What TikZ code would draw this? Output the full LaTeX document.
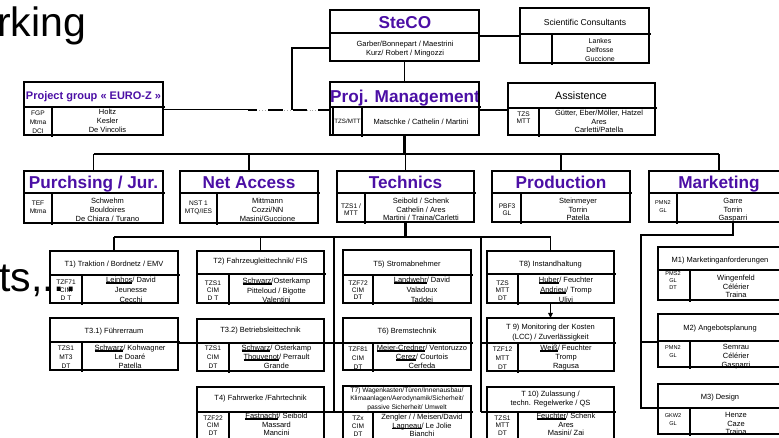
\documentclass[tikz,border=0pt]{standalone}
\usepackage{fontspec}
\setmainfont{Liberation Sans}
\usetikzlibrary{arrows.meta}
\definecolor{purp}{RGB}{75,15,165}
\pgfdeclarelayer{front}
\pgfsetlayers{main,front}
\newcommand\undl[1]{\setbox0\hbox{#1}\rlap{\rule[-1.1pt]{\wd0}{1.7pt}}\box0}
\tikzset{
  frame/.style={draw, line width=1.6pt, inner sep=0pt, outer sep=0pt},
  divl/.style={line width=1.5pt},
  conn/.style={line width=1.3pt},
  thickconn/.style={line width=2.7pt},
  ttlP/.style={font=\bfseries\fontsize{17.2}{18}\selectfont, text=purp, anchor=base, inner sep=0pt},
  ttlE/.style={font=\bfseries\fontsize{11}{12}\selectfont, text=purp, anchor=base, inner sep=0pt},
  sm/.style={font=\fontsize{7.5}{9}\selectfont, anchor=base, inner sep=0pt, yshift=-2.7pt},
  smb/.style={font=\fontsize{7}{9}\selectfont, anchor=base, inner sep=0pt, yshift=-2.5pt},
  xs/.style={font=\fontsize{6.6}{8}\selectfont, anchor=base, inner sep=0pt, yshift=-2.4pt},
  lc/.style={font=\fontsize{6.6}{8}\selectfont, anchor=base, inner sep=0pt, yshift=-2.4pt},
  tiny/.style={font=\fontsize{5.6}{7}\selectfont, anchor=base, inner sep=0pt, yshift=-2pt},
  md/.style={font=\fontsize{8.6}{10}\selectfont, anchor=base, inner sep=0pt, yshift=-3.1pt},
  lg/.style={font=\fontsize{10.7}{12}\selectfont, anchor=base, inner sep=0pt, yshift=-3.9pt},
  big/.style={font=\fontsize{41}{45}\selectfont, anchor=base west, inner sep=0pt},
}
% name x1 y1 x2 y2 ydiv xdiv
\newcommand\obox[7]{%
  \begin{pgfonlayer}{front}
  \node[frame, anchor=north west, minimum width={(#4-#2)*1pt}, minimum height={(#5-#3)*1pt}] (#1) at (#2,#3) {};
  \draw[divl] (#2,#6) -- ({#4+2},#6);
  \draw[divl] (#7,#6) -- (#7,{#5+2});
  \end{pgfonlayer}}
\newcommand\oboxnc[6]{%
  \begin{pgfonlayer}{front}
  \node[frame, anchor=north west, minimum width={(#4-#2)*1pt}, minimum height={(#5-#3)*1pt}] (#1) at (#2,#3) {};
  \draw[divl] (#2,#6) -- (#4,#6);
  \end{pgfonlayer}}
% prefix style x y dy list
\newcommand\txt[6]{%
  \foreach \ln [count=\k from 0] in {#6} {\node[#2] (#1\k) at ({#3},{#4+\k*#5}) {\ln};}}
\begin{document}
\begin{tikzpicture}[x=1pt,y=-1pt]
\useasboundingbox (0,0) rectangle (779,438);

% ---------- boxes ----------
\oboxnc{steco}{330}{10}{479}{61}{33}
\obox{pm}{330}{82}{479}{135}{107}{362}
\begin{pgfonlayer}{front}\draw[divl] (333,107) -- (333,135);\end{pgfonlayer}
\obox{sci}{520}{8}{649}{63}{34}{552}
\obox{assist}{508}{83}{655}{135}{108}{539}
\obox{euro}{24}{82}{163}{135}{107}{52}
\obox{purch}{24}{171}{163}{223}{193}{52}
\obox{net}{180}{171}{318}{223}{193}{217}
\obox{tech}{337}{171}{474}{222}{193}{365}
\obox{prod}{492}{171}{630}{222}{193}{521}
\obox{mkt}{649}{171}{789}{222}{193}{677}
\obox{t1}{50}{251}{178}{303}{275}{82}
\obox{t31}{50}{318}{178}{370}{342}{82}
\obox{t2}{197}{251}{324}{303}{274}{229}
\obox{t32}{197}{319}{324}{371}{343}{229}
\obox{t4}{197}{387}{324}{450}{412}{229}
\obox{t5}{343}{250}{471}{303}{275}{373}
\obox{t6}{343}{318}{471}{370}{343}{373}
\obox{t7}{343}{386}{471}{450}{412}{373}
\obox{t8}{487}{251}{614}{303}{274}{518}
\obox{t9}{487}{318}{614}{371}{343}{518}
\obox{t10}{487}{387}{614}{450}{412}{518}
\obox{m1}{658}{247}{786}{300}{270}{690}
\obox{m2}{658}{314}{786}{367}{341}{690}
\obox{m3}{658}{384}{786}{434}{408}{690}

% ---------- texts ----------
\node[ttlP] (tSte) at (405,29) {SteCO};
\txt{bSte}{sm}{405}{44}{9}{{Garber/Bonnepart  / Maestrini},{Kurz/ Robert / Mingozzi}}

\node[ttlP] (tPM) at (405,103) {Proj. Management};
\node[tiny, font=\fontsize{6.2}{7}\selectfont] (lPM) at (347.5,122) {TZS/MTT};
\txt{bPM}{sm}{421}{122}{9}{{Matschke / Cathelin / Martini}}

\node[md] (tSci) at (585,22) {Scientific Consultants};
\txt{bSci}{smb}{600}{41}{9}{{Lankes},{Delfosse},{Guccione}}

\node[lg] (tAs) at (581,96) {Assistence};
\txt{bAs}{sm}{599}{113}{8.5}{{Gütter, Eber/Möller, Hatzel},{Ares},{Carletti/Patella}}
\txt{lAs}{lc}{523.5}{114}{7}{{TZS},{MTT}}

\node[ttlE] (tEu) at (93.5,100) {Project group « EURO-Z »};
\txt{bEu}{sm}{107.5}{112}{9}{{Holtz},{Kesler},{De  Vincolis}}
\txt{lEu}{lc}{38}{113}{9}{{FGP},{Mtma},{DCI}}

\node[ttlP] (tPu) at (93.5,189) {Purchsing / Jur.};
\txt{bPu}{sm}{107.5}{201}{9}{{Schwehm},{Bouldoires},{De Chiara / Turano}}
\txt{lPu}{lc}{38}{203}{8}{{TEF},{Mtma}}

\node[ttlP] (tNe) at (249,189) {Net Access};
\txt{bNe}{sm}{267.5}{201}{9}{{Mittmann},{Cozzi/NN},{Masini/Guccione}}
\txt{lNe}{lc}{198.5}{203}{8}{{NST 1},{MTQ/IES}}

\node[ttlP] (tTe) at (405.5,189) {Technics};
\txt{bTe}{sm}{421}{201}{8.5}{{Seibold / Schenk},{Cathelin  /  Ares},{Martini / Traina/Carletti}}
\txt{lTe}{lc}{351}{206}{7.5}{{TZS1 /},{MTT}}

\node[ttlP] (tPr) at (561,189) {Production};
\txt{bPr}{sm}{578}{201}{8.5}{{Steinmeyer},{Torrin},{Patella}}
\txt{lPr}{lc}{507}{206}{7.5}{{PBF3},{GL}}

\node[ttlP] (tMk) at (719,189) {Marketing};
\txt{bMk}{sm}{733}{201}{8.5}{{Garre},{Torrin},{Gasparri}}
\txt{lMk}{tiny}{663}{203}{8}{{PMN2},{GL}}

\txt{hT1}{sm}{114}{264}{0}{{T1) Traktion / Bordnetz / EMV}}
\txt{bT1}{sm}{131}{280}{10}{{\undl{Leinhos}/  David},{Jeunesse},{Cecchi}}
\txt{lT1}{lc}{66}{282}{8}{{TZF71},{CIM},{D T}}

\txt{hT31}{sm}{114}{331}{0}{{T3.1) Führerraum}}
\txt{bT31}{sm}{130}{348}{9}{{\undl{Schwarz}/ Kohwagner},{Le Doaré},{Patella}}
\txt{lT31}{lc}{66}{348}{9}{{TZS1},{MT3},{DT}}

\txt{hT2}{sm}{260.5}{261}{0}{{T2) Fahrzeugleittechnik/ FIS}}
\txt{bT2}{sm}{276.5}{281}{9.5}{{\undl{Schwarz} /Osterkamp},{Pitteloud / Bigotte},{Valentini}}
\txt{lT2}{lc}{213}{283}{7.5}{{TZS1},{CIM},{D T}}

\txt{hT32}{sm}{260.5}{330}{0}{{T3.2) Betriebsleittechnik}}
\txt{bT32}{sm}{276.5}{348}{9}{{\undl{Schwarz} / Osterkamp},{\undl{Thouvenot}  / Perrault},{Grande}}
\txt{lT32}{lc}{213}{348}{9}{{TZS1},{CIM},{DT}}

\txt{hT4}{sm}{260.5}{398}{0}{{T4) Fahrwerke /Fahrtechnik}}
\txt{bT4}{sm}{276.5}{416}{8.5}{{\undl{Fastnacht} /  Seibold},{Massard},{Mancini}}
\txt{lT4}{lc}{213}{418}{7.5}{{TZF22},{CIM},{DT}}

\txt{hT5}{sm}{407}{264}{0}{{T5) Stromabnehmer}}
\txt{bT5}{sm}{422}{280}{10}{{\undl{Landwehr} / David},{Valadoux},{Taddei}}
\txt{lT5}{lc}{358}{283}{7}{{TZF72},{CIM},{DT}}

\txt{hT6}{sm}{407}{331}{0}{{T6) Bremstechnik}}
\txt{bT6}{sm}{422}{348}{9}{{\undl{Meier-Credner} / Ventoruzzo},{\undl{Cerez} / Courtois},{Cerfeda}}
\txt{lT6}{lc}{358}{349}{9}{{TZF81},{CIM},{DT}}

\txt{hT7}{xs}{407}{390}{8.5}{{T7) Wagenkasten/Türen/Innenausbau/},{Klimaanlagen/Aerodynamik/Sicherheit/},{passive Sicherheit/ Umwelt}}
\txt{bT7}{sm}{422}{417}{8.5}{{Zengler / / Meisen/David},{\undl{Lagneau} / Le Jolie},{Bianchi}}
\txt{lT7}{lc}{358}{418}{8}{{TZx},{CIM},{DT}}

\txt{hT8}{sm}{550.5}{264}{0}{{T8) Instandhaltung}}
\txt{bT8}{sm}{566}{280}{10}{{\undl{Huber} /  Feuchter},{\undl{Andrieu} / Tromp},{Ulivi}}
\txt{lT8}{lc}{502.5}{283}{7.5}{{TZS},{MTT},{DT}}

\txt{hT9}{sm}{550.5}{327}{10}{{T 9) Monitoring der Kosten},{(LCC) / Zuverlässigkeit}}
\txt{bT9}{sm}{566}{348}{9}{{\undl{Weiß} / Feuchter},{Tromp},{Ragusa}}
\txt{lT9}{lc}{502.5}{349}{9}{{TZF12},{MTT},{DT}}

\txt{hT10}{sm}{550.5}{394}{9}{{T 10) Zulassung /},{techn. Regelwerke / QS}}
\txt{bT10}{sm}{566}{416}{8.5}{{\undl{Feuchter}/ Schenk},{Ares},{Masini/  Zai}}
\txt{lT10}{lc}{502.5}{418}{7.5}{{TZS1},{MTT},{DT}}

\txt{hM1}{sm}{720}{260}{0}{{M1) Marketinganforderungen}}
\txt{bM1}{sm}{736}{278}{8.5}{{Wingenfeld},{Célérier},{Traina}}
\txt{lM1}{tiny}{673}{274}{7}{{PMS2},{GL},{DT}}

\txt{hM2}{sm}{720}{328}{0}{{M2) Angebotsplanung}}
\txt{bM2}{sm}{736}{347}{9}{{Semrau},{Célérier},{Gasparri}}
\txt{lM2}{tiny}{673}{347}{8}{{PMN2},{GL}}

\txt{hM3}{sm}{720}{397}{0}{{M3) Design}}
\txt{bM3}{sm}{736}{415}{8.5}{{Henze},{Caze},{Traina}}
\txt{lM3}{tiny}{673}{415}{8}{{GKW2},{GL}}

% ---------- connectors ----------
\coordinate (ySci) at (0,36);
\coordinate (yPM) at (0,110);
\coordinate (kSte) at (292,48);
\coordinate (dA) at (248,110);
\coordinate (bus) at (0,154);
\coordinate (tbus) at (0,237);
\coordinate (vL) at (334,237);
\coordinate (vR) at (481,237);
\coordinate (r3) at (0,343);
\coordinate (r4) at (0,412);
\coordinate (mk1) at (733,235);
\coordinate (mk2) at (641,235);
\coordinate (ym2) at (0,342);
\coordinate (ym3) at (0,408);

\draw[conn] (steco.south) -- (pm.north);
\draw[conn] (steco.east |- ySci) -- (sci.west |- ySci);
\draw[conn] (pm.east |- yPM) -- (assist.west |- yPM);
\draw[line width=1pt] (euro.east |- yPM) -- (dA);
\draw[line width=0.8pt, gray!70, dotted] (dA) -- (pm.west |- yPM);
\draw[line width=2.2pt, dash pattern=on 9pt off 11pt on 15pt off 10pt on 14pt off 11pt on 12pt off 200pt] (dA) -- (pm.west |- yPM);
\draw[conn] (steco.west |- kSte) -- (kSte) -- (kSte |- yPM);

\draw[thickconn] (pm.south) -- (pm.south |- bus);
\draw[conn] (purch.north |- bus) -- (mkt.north |- bus);
\foreach \b in {purch,net,tech,prod,mkt} {\draw[conn] (\b.north |- bus) -- (\b.north);}

\draw[thickconn] (tech.south) -- (tech.south |- tbus);
\draw[conn] (t1.north |- tbus) -- (t8.north |- tbus);
\foreach \b in {t1,t2,t8} {\draw[conn] (\b.north |- tbus) -- (\b.north);}
\draw[conn] (vL) -- (vL |- r4);
\draw[conn] (vR) -- (vR |- r4);
\draw[conn] (t31.east |- r3) -- (t32.west |- r3);
\draw[conn] (t32.east |- r3) -- (t6.west |- r3);
\draw[conn] (t4.east |- r4) -- (t7.west |- r4);
\draw[conn] (vR |- r3) -- (t9.west |- r3);
\draw[conn] (vR |- r4) -- (t10.west |- r4);
\draw[conn, -{Triangle[length=5pt,width=4.5pt]}] (t8.south) -- (t9.north);

\draw[conn] (mkt.south -| mk1) -- (mk1) -- (mk2) -- (mk2 |- ym3) -- (m3.west |- ym3);
\draw[conn] (mk2 |- ym2) -- (m2.west |- ym2);

% ---------- large background text ----------
\begin{pgfonlayer}{front}
\node[big] (bigA) at (-3,37) {rking};
\node[big] (bigB) at (-1,292) {ts,...};
\end{pgfonlayer}
\end{tikzpicture}
\end{document}
